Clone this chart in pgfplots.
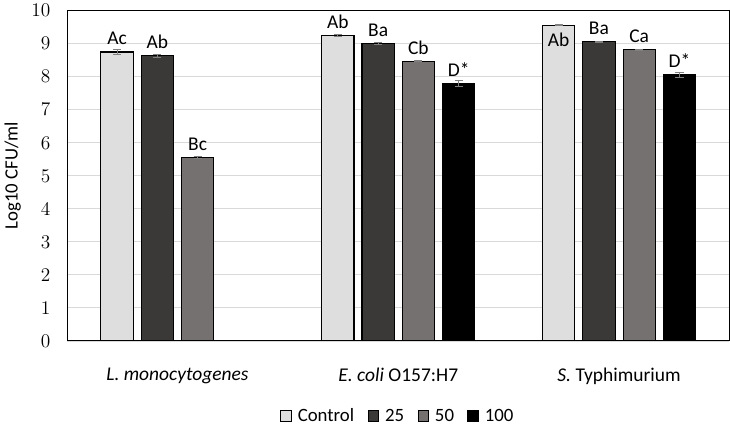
\documentclass[border=0pt]{standalone}
\usepackage{fontspec}
\setmainfont{Carlito}
\usepackage{pgfplots}
\pgfplotsset{compat=1.18}
\usepackage{pgfplotstable}

\definecolor{cctrl}{HTML}{DEDEDE}
\definecolor{c25}{HTML}{3B3838}
\definecolor{c50}{HTML}{767171}
\definecolor{c100}{HTML}{000000}
\definecolor{gridgray}{HTML}{D9D9D9}
\definecolor{errgray}{HTML}{808080}

% x: 0 = L. monocytogenes, 1 = E. coli O157:H7, 2 = S. Typhimurium
\pgfplotstableread{
x y err lab dy
0 8.75 0.07 Ac 1.5
1 9.25 0.02 Ab 1.5
2 9.56 0.02 Ab -19.5
}\ctrl
\pgfplotstableread{
x y err lab dy
0 8.64 0.05 Ab 1.5
1 9.01 0.02 Ba 1.5
2 9.06 0.02 Ba 1.5
}\twentyfive
\pgfplotstableread{
x y err lab dy
0 5.56 0.03 Bc 1.5
1 8.47 0.02 Cb 1.5
2 8.82 0.02 Ca 1.5
}\fifty
\pgfplotstableread{
x y err lab dy
1 7.80 0.10 D* 1.5
2 8.06 0.08 D* 1.5
}\hundred

\begin{document}
\begin{tikzpicture}
\begin{axis}[
    scale only axis,
    width=493.5pt, height=246pt,
    ybar=6pt, bar width=24pt,
    xmin=-0.5, xmax=2.5,
    ymin=0, ymax=10,
    ytick={0,1,...,10},
    xtick={0,1,2},
    xticklabels={\textit{L. monocytogenes}, \textit{E. coli} O157:H7, \textit{S.} Typhimurium},
    major tick length=0pt,
    ymajorgrids, grid style={gridgray, line width=0.6pt},
    axis line style={black, line width=0.8pt},
    yticklabel style={font=\fontsize{15}{17}\selectfont, xshift=-9pt},
    xticklabel style={font=\fontsize{14.5}{17}\selectfont, yshift=-17pt},
    ylabel={Log10 CFU/ml},
    ylabel style={font=\fontsize{14}{16}\selectfont, yshift=1pt},
    legend style={at={(0.5,-0.228)}, anchor=center, draw=none, legend columns=4,
        font=\fontsize{14}{16}\selectfont,
        /tikz/every odd column/.append style={column sep=2.5pt},
        /tikz/every even column/.append style={column sep=8pt}},
    legend image code/.code={\draw[#1, draw=black, line width=0.5pt] (0pt,-3.5pt) rectangle (8pt,4.5pt);},
    every axis plot/.append style={draw=black, line width=0.8pt},
    error bars/y dir=both, error bars/y explicit,
    error bars/error bar style={errgray, line width=0.6pt},
    error bars/error mark options={errgray, rotate=90, mark size=3pt, line width=0.6pt},
    point meta=explicit symbolic,
    nodes near coords,
    visualization depends on={\thisrow{dy} \as \labdy},
    nodes near coords style={font=\fontsize{14.5}{16}\selectfont, yshift=\labdy pt, black},
]
\addplot[fill=cctrl] table[x=x, y=y, y error=err, meta=lab] {\ctrl};
\addplot[fill=c25] table[x=x, y=y, y error=err, meta=lab] {\twentyfive};
\addplot[fill=c50] table[x=x, y=y, y error=err, meta=lab] {\fifty};
\addplot[fill=c100] table[x=x, y=y, y error=err, meta=lab] {\hundred};
\legend{Control, 25, 50, 100}
\end{axis}
\end{tikzpicture}
\end{document}
